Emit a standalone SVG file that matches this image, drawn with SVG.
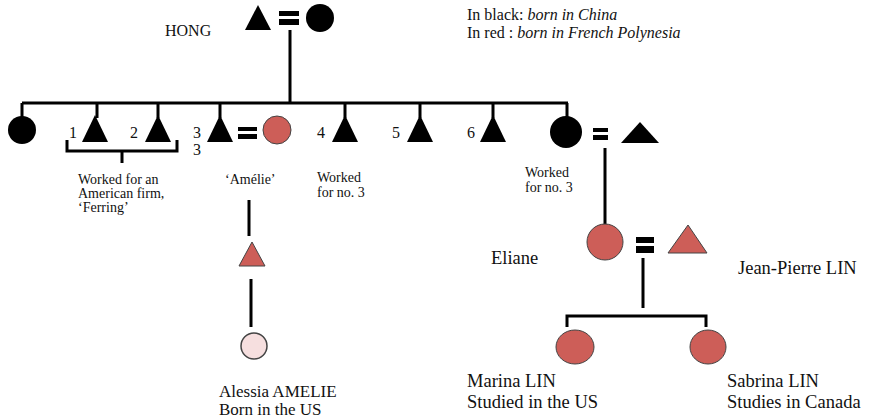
<svg xmlns="http://www.w3.org/2000/svg" width="870" height="420" viewBox="0 0 870 420">
<style>
.t{font-family:"Liberation Serif","Times New Roman",serif;fill:#111}
.s{font-size:14px}.m{font-size:16px}.l{font-size:18.5px}.a{font-size:17px}
.ln{stroke:#000;stroke-width:3;fill:none}
.bk{fill:#000}
.rd{fill:#cd5e58;stroke:#444;stroke-width:1}
.pk{fill:#f6dfdf;stroke:#444;stroke-width:1.5}
</style>
<rect width="870" height="420" fill="#fff"/>
<g id="connectors">
<path class="ln" d="M290 30V103M22 103H568M22 103V118M97 103V118M158 103V118M220 103V118M345 103V118M420 103V118M493 103V118M567 103V118"/>
<path class="ln" d="M67 140V151H177V140M122 151V163"/>
<path class="ln" d="M249 200V236M251 279V327"/>
<path class="ln" d="M605 148V228M643 258V308M567 327V316H706V327"/>
</g>
<g id="hong"><text class="t m" x="165" y="36">HONG</text>
<polygon class="bk" points="258,5 271,30 245,30"/>
<rect class="bk" x="279" y="11" width="20" height="5"/><rect class="bk" x="279" y="19" width="20" height="6"/>
<circle class="bk" cx="320" cy="18" r="14"/></g>
<g id="legend"><text class="t m" x="467" y="20">In black: <tspan font-style="italic">born in China</tspan></text>
<text class="t m" x="467" y="38">In red : <tspan font-style="italic">born in French Polynesia</tspan></text></g>
<g id="c0"><circle class="bk" cx="22" cy="130" r="14"/></g>
<g id="c1"><text class="t m" x="69" y="138">1</text><polygon class="bk" points="95,115 108,142 82,142"/></g>
<g id="c2"><text class="t m" x="130" y="138">2</text><polygon class="bk" points="158,115 171,142 145,142"/></g>
<g id="c3"><text class="t m" x="193" y="138">3</text><text class="t m" x="193" y="155">3</text><polygon class="bk" points="220,115 233,142 207,142"/>
<rect class="bk" x="238" y="127" width="19" height="4"/><rect class="bk" x="238" y="134" width="19" height="5"/></g>
<g id="amelie"><circle class="rd" cx="277" cy="130" r="14" stroke="none"/><text class="t s" x="225" y="184">‘Amélie’</text></g>
<g id="ferring"><text class="t s" x="78" y="184">Worked for an</text><text class="t s" x="78" y="198">American firm,</text><text class="t s" x="78" y="212">‘Ferring’</text></g>
<g id="c4"><text class="t m" x="317" y="138">4</text><polygon class="bk" points="345,115 358,142 332,142"/>
<text class="t s" x="317" y="182">Worked</text><text class="t s" x="317" y="197">for no. 3</text></g>
<g id="c5"><text class="t m" x="392" y="138">5</text><polygon class="bk" points="420,115 433,142 407,142"/></g>
<g id="c6"><text class="t m" x="467" y="138">6</text><polygon class="bk" points="493,115 506,142 480,142"/></g>
<g id="c7"><circle class="bk" cx="566" cy="132" r="16"/>
<rect class="bk" x="593" y="128" width="15" height="4"/><rect class="bk" x="593" y="135" width="15" height="5"/>
<polygon class="bk" points="640,122 659,143 621,143"/>
<text class="t s" x="525" y="177">Worked</text><text class="t s" x="525" y="192">for no. 3</text></g>
<g id="amelie-son"><polygon class="rd" points="252,242 265,266 239,266"/></g>
<g id="alessia"><circle class="pk" cx="254" cy="346" r="13"/>
<text class="t a" x="219" y="397">Alessia AMELIE</text><text class="t a" x="219" y="415">Born in the US</text></g>
<g id="eliane"><circle class="rd" cx="605" cy="242" r="18"/><text class="t l" x="491" y="264">Eliane</text>
<rect class="bk" x="636" y="237" width="18" height="6"/><rect class="bk" x="636" y="246" width="18" height="7"/></g>
<g id="jean-pierre"><polygon class="rd" points="688,225 707,253 668,253"/><text class="t l" x="738" y="274">Jean-Pierre LIN</text></g>
<g id="marina"><ellipse class="rd" cx="575" cy="347" rx="19" ry="17"/>
<text class="t l" x="467" y="387">Marina LIN</text><text class="t l" x="467" y="408">Studied in the US</text></g>
<g id="sabrina"><ellipse class="rd" cx="708" cy="347" rx="18" ry="17"/>
<text class="t l" x="727" y="387">Sabrina LIN</text><text class="t l" x="727" y="408">Studies in Canada</text></g>
</svg>
